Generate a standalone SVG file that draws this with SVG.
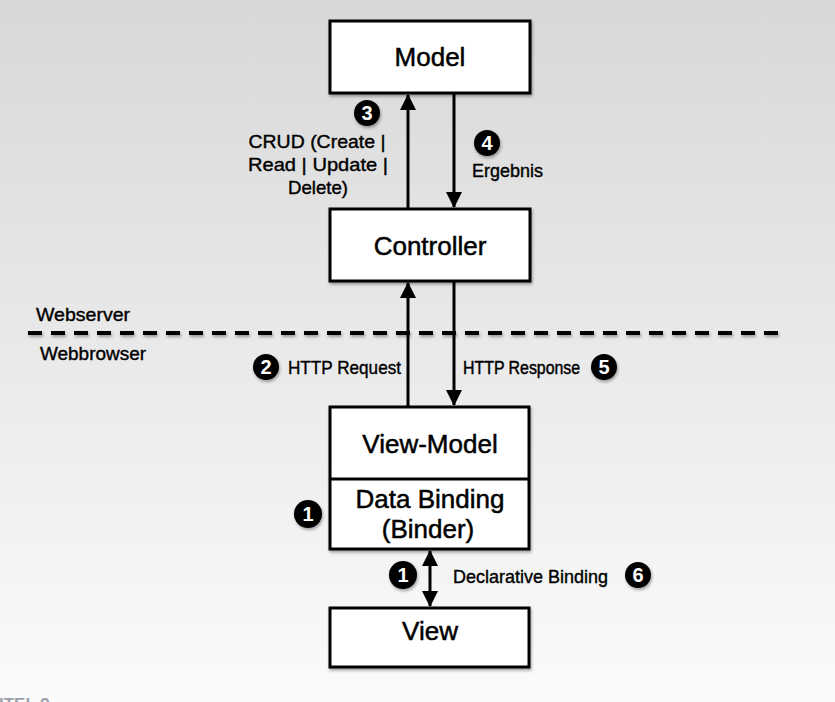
<svg xmlns="http://www.w3.org/2000/svg" width="835" height="702" viewBox="0 0 835 702">
<defs>
<linearGradient id="bg" x1="0" y1="0" x2="0" y2="1">
<stop offset="0" stop-color="#d8d8d8"/>
<stop offset="1" stop-color="#fbfbfb"/>
</linearGradient>
<filter id="sh" x="-20%" y="-20%" width="150%" height="160%">
<feDropShadow dx="1" dy="2" stdDeviation="1.6" flood-color="#000" flood-opacity="0.35"/>
</filter>
<filter id="shl" filterUnits="userSpaceOnUse" x="0" y="320" width="835" height="30">
<feDropShadow dx="1" dy="2" stdDeviation="1.6" flood-color="#000" flood-opacity="0.35"/>
</filter>
<marker id="ah" viewBox="0 0 16 18" refX="15" refY="9" markerWidth="16" markerHeight="18" markerUnits="userSpaceOnUse" orient="auto-start-reverse">
<path d="M0,1 L16,9 L0,17 Z" fill="#000"/>
</marker>
<style>
.box{fill:#fff;stroke:#000;stroke-width:3;filter:url(#sh)}
.bt{font-family:"Liberation Sans",Arial,sans-serif;font-size:26px;fill:#000;stroke:#000;stroke-width:0.5;text-anchor:middle}
.lb{font-family:"Liberation Sans",Arial,sans-serif;font-size:19px;fill:#000;stroke:#000;stroke-width:0.4}
.ln{stroke:#000;stroke-width:3;fill:none}
.bd circle{fill:#000;filter:url(#sh)}
.bd text{font-family:"Liberation Sans",Arial,sans-serif;font-size:20px;font-weight:bold;fill:#fff;text-anchor:middle}
</style>
</defs>
<rect x="0" y="0" width="835" height="702" fill="url(#bg)"/>

<g id="separator">
<line x1="28" y1="333" x2="782" y2="333" stroke="#000" stroke-width="4" stroke-dasharray="14,9" filter="url(#shl)"/>
<text class="lb" x="36" y="321" textLength="94" lengthAdjust="spacingAndGlyphs">Webserver</text>
<text class="lb" x="40" y="360" textLength="106" lengthAdjust="spacingAndGlyphs">Webbrowser</text>
</g>

<g id="connectors">
<line class="ln" x1="408" y1="209" x2="408" y2="95" marker-end="url(#ah)"/>
<line class="ln" x1="454" y1="93" x2="454" y2="207" marker-end="url(#ah)"/>
<line class="ln" x1="408" y1="407" x2="408" y2="283" marker-end="url(#ah)"/>
<line class="ln" x1="454" y1="281" x2="454" y2="405" marker-end="url(#ah)"/>
<line class="ln" x1="430" y1="551" x2="430" y2="606" marker-start="url(#ah)" marker-end="url(#ah)"/>
</g>

<g id="model">
<rect class="box" x="330" y="21" width="200" height="72"/>
<text class="bt" x="430" y="66">Model</text>
</g>

<g id="controller">
<rect class="box" x="330" y="209" width="200" height="72"/>
<text class="bt" x="430" y="255">Controller</text>
</g>

<g id="viewmodel">
<rect class="box" x="330" y="407" width="199" height="142"/>
<line x1="330" y1="479" x2="529" y2="479" stroke="#000" stroke-width="3"/>
<text class="bt" x="430" y="453">View-Model</text>
<text class="bt" x="430" y="508">Data Binding</text>
<text class="bt" x="428" y="538">(Binder)</text>
</g>

<g id="view">
<rect class="box" x="330" y="608" width="199" height="59"/>
<text class="bt" x="430" y="640">View</text>
</g>

<g id="labels">
<text class="lb" x="317" y="148" text-anchor="middle" textLength="137" lengthAdjust="spacingAndGlyphs">CRUD (Create |</text>
<text class="lb" x="318" y="171" text-anchor="middle" textLength="140" lengthAdjust="spacingAndGlyphs">Read | Update |</text>
<text class="lb" x="318" y="194" text-anchor="middle" textLength="60" lengthAdjust="spacingAndGlyphs">Delete)</text>
<text class="lb" x="472" y="177" textLength="71" lengthAdjust="spacingAndGlyphs">Ergebnis</text>
<text class="lb" x="288" y="374" textLength="113" lengthAdjust="spacingAndGlyphs">HTTP Request</text>
<text class="lb" transform="translate(463,374) scale(1,1.2)" x="0" y="0" style="font-size:15.9px">HTTP Response</text>
<text class="lb" x="453" y="583" textLength="155" lengthAdjust="spacingAndGlyphs">Declarative Binding</text>
</g>

<g id="badges" class="bd">
<g id="b3"><circle cx="367" cy="113" r="13"/><text x="367" y="120">3</text></g>
<g id="b4"><circle cx="487" cy="143" r="13"/><text x="487" y="150">4</text></g>
<g id="b2"><circle cx="266" cy="367" r="13"/><text x="266" y="374">2</text></g>
<g id="b5"><circle cx="604" cy="367" r="13"/><text x="604" y="374">5</text></g>
<g id="b1a"><circle cx="308" cy="514" r="14"/><text x="308" y="521">1</text></g>
<g id="b1b"><circle cx="403" cy="575" r="14"/><text x="403" y="582">1</text></g>
<g id="b6"><circle cx="638" cy="575" r="13"/><text x="638" y="582">6</text></g>
</g>

<text x="-1" y="710" font-family="Liberation Sans,Arial,sans-serif" font-size="17" font-weight="bold" fill="#98a1ab">ITEL 9</text>
</svg>
